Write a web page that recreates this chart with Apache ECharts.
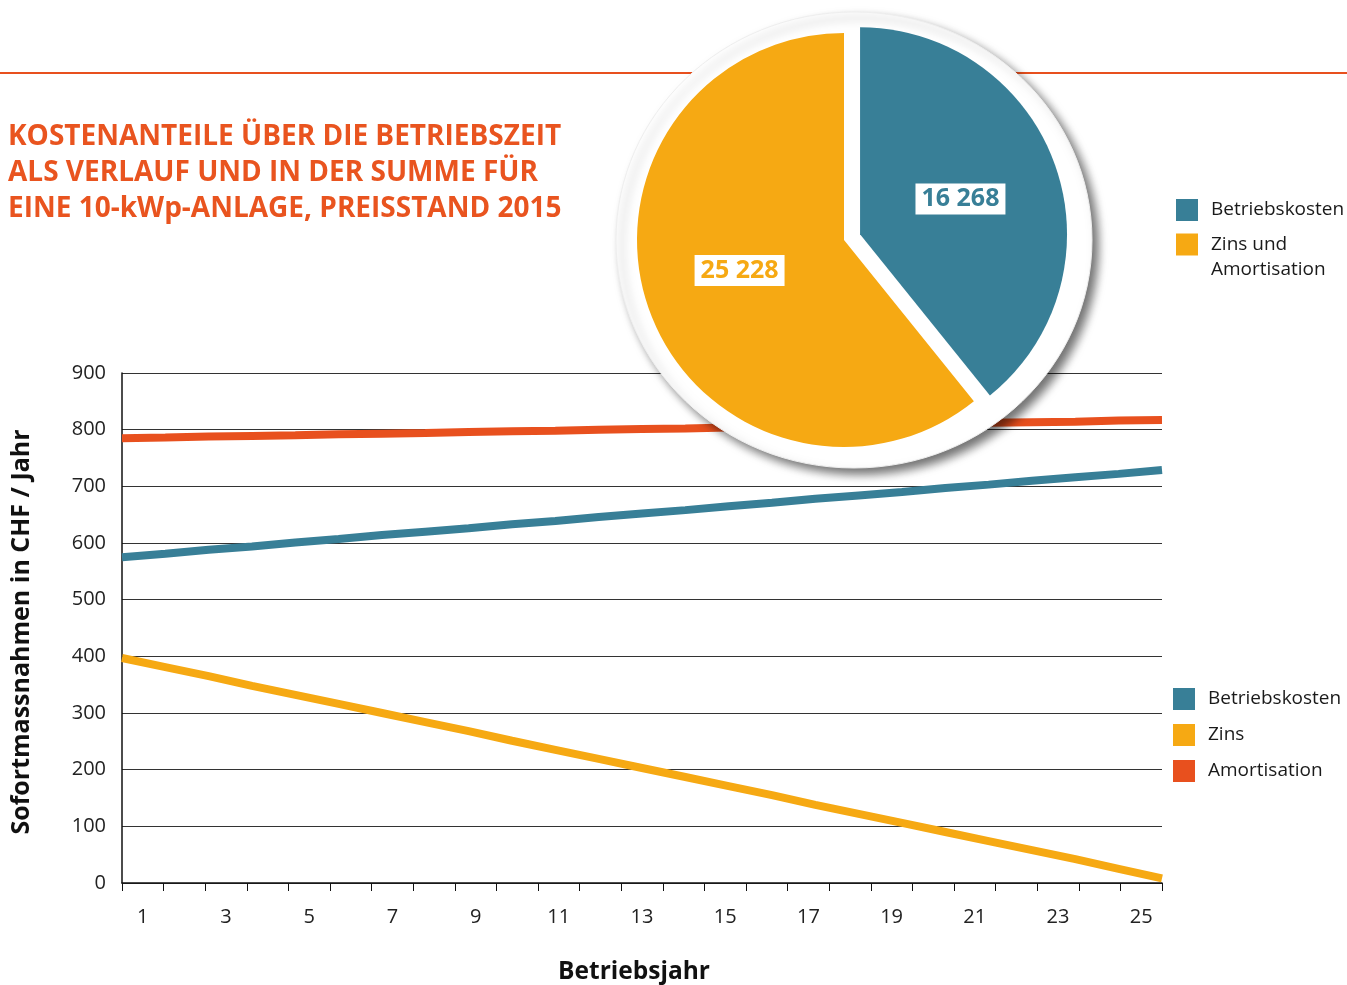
<!DOCTYPE html>
<html>
<head>
<meta charset="utf-8">
<script src="https://cdn.jsdelivr.net/npm/echarts@6/dist/echarts.min.js"></script>
<style>
html,body{margin:0;padding:0;background:#fff;}
#chart{width:1347px;height:985px;}
</style>
</head>
<body>
<div id="chart"></div>
<script>
// ---- data ----
const years = ['1','2','3','4','5','6','7','8','9','10','11','12','13','14','15','16','17','18','19','20','21','22','23','24','25'];
const betriebskosten = [575,581,588,594,601,607,614,620,626,633,639,646,652,658,665,671,678,684,690,697,703,710,716,722,729];
const zins = [397,381,365,348,332,316,300,284,268,251,235,219,203,187,171,155,138,122,106,90,74,58,42,25,8];
const amortisation = [785,786,788,789,790,792,793,794,796,797,798,800,801,802,804,805,806,808,809,810,812,813,814,816,817];
const pieNames = ['Betriebskosten', 'Zins und\nAmortisation'];
const pieValues = [16268, 25228];
const titleLines = ['KOSTENANTEILE ÜBER DIE BETRIEBSZEIT', 'ALS VERLAUF UND IN DER SUMME FÜR', 'EINE 10-kWp-ANLAGE, PREISSTAND 2015'];
const yName = 'Sofortmassnahmen in CHF / Jahr';
const xName = 'Betriebsjahr';

const TEAL = '#387f97', YELLOW = '#f6a913', RED = '#e8501e', ORANGE_T = '#e9541f';
const FONT = 'Open Sans';

function fmt(v){ return String(v).replace(/\B(?=(\d{3})+(?!\d))/g, ' '); }

const chart = echarts.init(document.getElementById('chart'));
chart.setOption({
  animation: false,
  textStyle: { fontFamily: FONT },
  title: {
    text: titleLines.join('\n'),
    left: 3, top: 114,
    textStyle: { color: ORANGE_T, fontSize: 28, fontWeight: 'bold', lineHeight: 36, fontFamily: FONT }
  },
  legend: [
    {
      data: [pieNames[0]], orient: 'vertical', left: 1171, top: 194,
      icon: 'rect', itemWidth: 22, itemHeight: 22, selectedMode: false,
      textStyle: { fontSize: 19, color: '#1a1a1a', padding: [0,0,0,8], fontFamily: FONT }
    },
    {
      data: [pieNames[1]], orient: 'vertical', left: 1171, top: 202,
      icon: 'rect', itemWidth: 22, itemHeight: 22, selectedMode: false,
      formatter: n => '\n' + n,
      textStyle: { fontSize: 19, color: '#1a1a1a', lineHeight: 25, padding: [0,0,0,8], fontFamily: FONT }
    },
    {
      data: ['Betriebskosten', 'Zins', 'Amortisation'], orient: 'vertical', left: 1168, top: 683,
      icon: 'rect', itemWidth: 22, itemHeight: 22, itemGap: 14, selectedMode: false,
      textStyle: { fontSize: 19, color: '#1a1a1a', padding: [0,0,0,8], fontFamily: FONT }
    }
  ],
  grid: { left: 122, right: 185, top: 373, bottom: 102, containLabel: false, outerBoundsMode: 'none' },
  xAxis: [
    {
      type: 'category', data: years, boundaryGap: true,
      axisLine: { lineStyle: { color: '#111', width: 1.5 } },
      axisTick: { show: true, interval: 0, length: 8, lineStyle: { color: '#111' } },
      axisLabel: { interval: 1, fontSize: 20, color: '#222', margin: 24, fontFamily: FONT },
      splitLine: { show: false },
      name: xName, nameLocation: 'middle', nameGap: 77,
      nameTextStyle: { fontSize: 24.5, fontWeight: 'bold', color: '#111', fontFamily: FONT, padding: [0,16,0,0] }
    },
    { type: 'category', data: years, boundaryGap: false, show: false }
  ],
  yAxis: {
    type: 'value', min: 0, max: 900, interval: 100,
    axisLine: { show: true, lineStyle: { color: '#111', width: 1.5 } },
    axisTick: { show: false },
    axisLabel: { fontSize: 20, color: '#222', margin: 16, fontFamily: FONT },
    splitLine: { lineStyle: { color: '#333', width: 1 } },
    name: yName, nameLocation: 'middle', nameGap: 88,
    nameTextStyle: { fontSize: 25, fontWeight: 'bold', color: '#111', fontFamily: FONT, padding: [0,8,0,0] }
  },
  graphic: [
    { type: 'line', shape: { x1: 0, y1: 73, x2: 1347, y2: 73 }, style: { stroke: RED, lineWidth: 2 }, z: 1 },
    { type: 'ellipse', shape: { cx: 854, cy: 240, rx: 238, ry: 228 },
      style: { fill: '#fff', stroke: '#eeeeee', lineWidth: 1, shadowBlur: 10, shadowOffsetX: 6, shadowOffsetY: 6, shadowColor: 'rgba(0,0,0,0.55)' },
      z: 50 }
  ],
  series: [
    { name: 'Betriebskosten', type: 'line', xAxisIndex: 1, data: betriebskosten, symbol: 'none',
      lineStyle: { width: 8, color: TEAL }, itemStyle: { color: TEAL }, z: 2, silent: true },
    { name: 'Zins', type: 'line', xAxisIndex: 1, data: zins, symbol: 'none',
      lineStyle: { width: 8, color: YELLOW }, itemStyle: { color: YELLOW }, z: 2, silent: true },
    { name: 'Amortisation', type: 'line', xAxisIndex: 1, data: amortisation, symbol: 'none',
      lineStyle: { width: 8, color: RED }, itemStyle: { color: RED }, z: 2, silent: true },
    { type: 'pie', center: [844, 240], radius: 207, startAngle: 90, clockwise: true,
      selectedMode: 'single', selectedOffset: 17, z: 60, silent: true,
      label: { show: true, position: 'inside', formatter: p => fmt(p.value),
        fontSize: 25, fontWeight: 'bold', backgroundColor: '#fff', padding: [4,6,2,6], fontFamily: FONT },
      labelLine: { show: false },
      emphasis: { disabled: true },
      data: [
        { name: pieNames[0], value: pieValues[0], selected: true, itemStyle: { color: TEAL }, label: { color: TEAL } },
        { name: pieNames[1], value: pieValues[1], itemStyle: { color: YELLOW }, label: { color: YELLOW, offset: [-4, -5] } }
      ]
    }
  ]
});
</script>
</body>
</html>
